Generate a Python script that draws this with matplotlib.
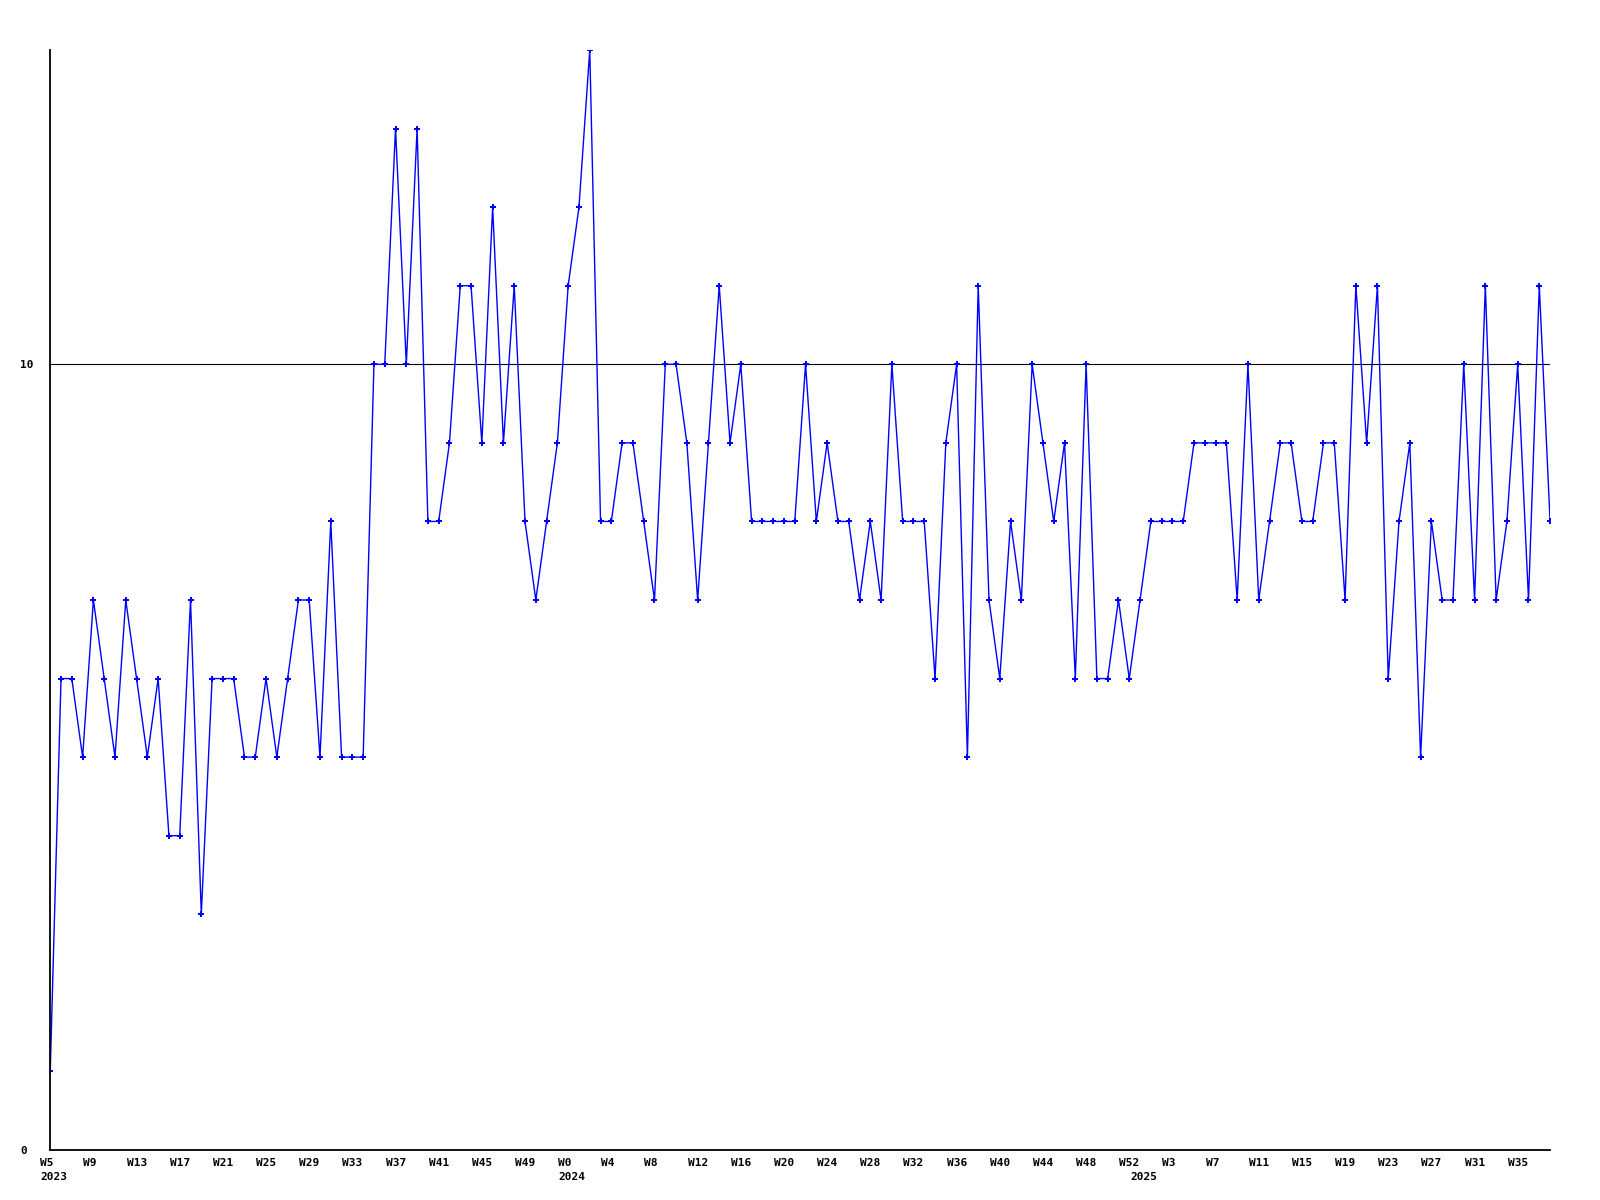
# weekly counts, 2023 W5 .. 2025 W38

import matplotlib
matplotlib.use("Agg")
import matplotlib.pyplot as plt
import matplotlib.transforms as mtransforms

# values, one per week
values = [1, 6, 6, 5, 7, 6, 5, 7, 6, 5,
          6, 4, 4, 7, 3, 6, 6, 6, 5, 5,
          6, 5, 6, 7, 7, 5, 8, 5, 5, 5,
          10, 10, 13, 10, 13, 8, 8, 9, 11, 11,
          9, 12, 9, 11, 8, 7, 8, 9, 11, 12,
          14, 8, 8, 9, 9, 8, 7, 10, 10, 9,
          7, 9, 11, 9, 10, 8, 8, 8, 8, 8,
          10, 8, 9, 8, 8, 7, 8, 7, 10, 8,
          8, 8, 6, 9, 10, 5, 11, 7, 6, 8,
          7, 10, 9, 8, 9, 6, 10, 6, 6, 7,
          6, 7, 8, 8, 8, 8, 9, 9, 9, 9,
          7, 10, 7, 8, 9, 9, 8, 8, 9, 9,
          7, 11, 9, 11, 6, 8, 9, 5, 8, 7,
          7, 10, 7, 11, 7, 8, 10, 7, 11, 8]

# every 4th week gets a label
tick_pos = list(range(0, 137, 4))
tick_labels = ['W5', 'W9', 'W13', 'W17', 'W21', 'W25', 'W29', 'W33', 'W37', 'W41', 'W45', 'W49',
               'W0', 'W4', 'W8', 'W12', 'W16', 'W20', 'W24', 'W28', 'W32', 'W36', 'W40', 'W44', 'W48', 'W52',
               'W3', 'W7', 'W11', 'W15', 'W19', 'W23', 'W27', 'W31', 'W35']
year_pos = [0, 48, 101]
year_labels = ['2023', '2024', '2025']

y_ticks = [0, 10]

font = {'family': 'DejaVu Sans Mono', 'weight': 'bold', 'size': 8}

fig = plt.figure(figsize=(16, 12), dpi=100)
ax = fig.add_axes([0.0314, 0.0417, 0.9374, 0.9166])

x = list(range(len(values)))
ax.axhline(10, color='black', lw=0.8, zorder=1)
ax.plot(x, values, color='#0000ff', lw=1.0, marker='P', ms=4, mew=0, zorder=2)

ax.set_xlim(0, len(values) - 1)
ax.set_ylim(0, 14)

for s in ['top', 'right']:
    ax.spines[s].set_visible(False)
for s in ['left', 'bottom']:
    ax.spines[s].set_linewidth(1.3)
    ax.spines[s].set_color('black')

ax.set_xticks(tick_pos)
ax.set_xticklabels(tick_labels, fontdict=font, ha='left')
ax.set_yticks(y_ticks)
ax.set_yticklabels([str(v) for v in y_ticks], fontdict=font, ha='left')
ax.tick_params(axis='x', length=0, pad=6)
ax.tick_params(axis='y', length=0, pad=21.6)

# shift week labels a bit to the left of their point
shift = mtransforms.ScaledTranslation(-0.10, 0, fig.dpi_scale_trans)
for lab in ax.get_xticklabels():
    lab.set_transform(lab.get_transform() + shift)

for p, yl in zip(year_pos, year_labels):
    ax.annotate(yl, xy=(p, 0), xycoords=('data', 'axes fraction'),
                xytext=(-10, -22), textcoords='offset pixels',
                ha='left', va='top', **font)

fig.savefig('out.png', dpi=100)
